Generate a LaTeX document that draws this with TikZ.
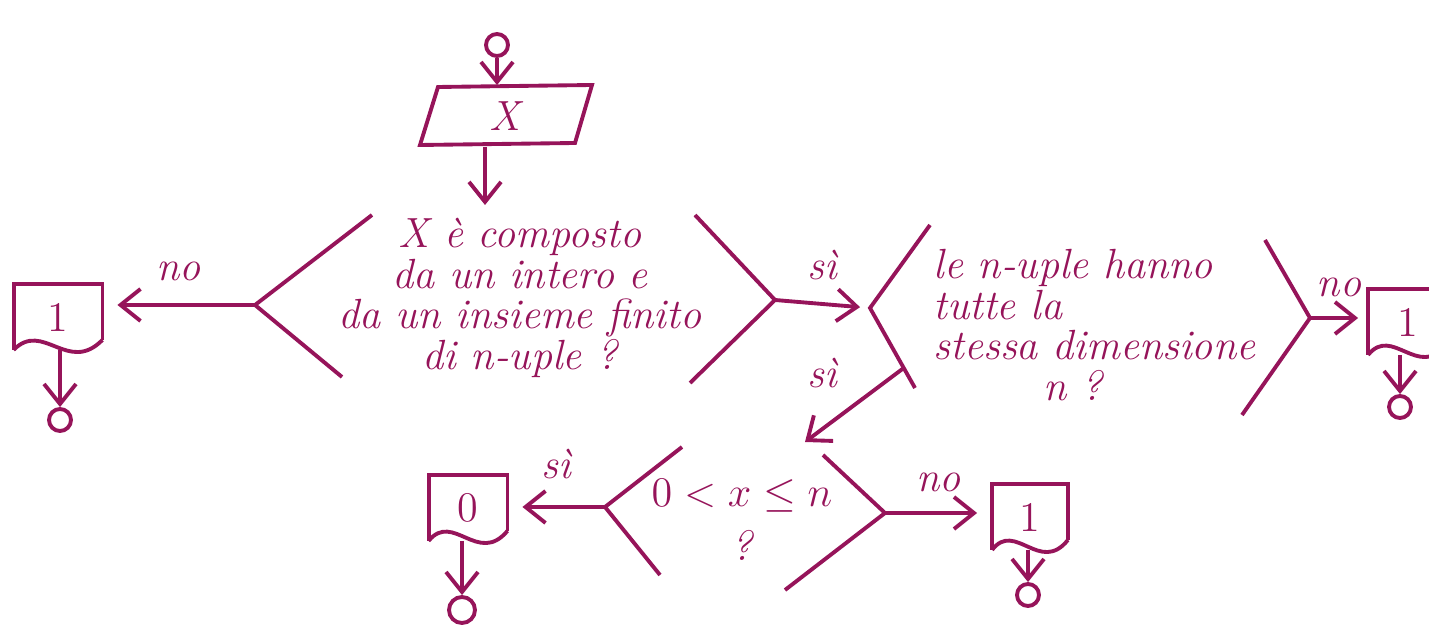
\documentclass[tikz,border=0pt]{standalone}
\usetikzlibrary{calc,arrows.meta}
\definecolor{ink}{RGB}{150,20,90}
% foglio di uscita: tre lati dritti e il fondo ondulato
\newcommand{\docforma}[1]{%
  \draw (#1.south west) -- (#1.north west) -- (#1.north east) -- ($(#1.south east)+(0,0.1)$);
  \draw (#1.south west) .. controls ($(#1.south)+(-0.15,0.3)$) and ($(#1.south)+(0.1,-0.25)$) .. ($(#1.south east)+(0,0.1)$);}

\begin{document}
\begin{tikzpicture}[scale=1.0, line width=1.1pt, ink, >={Straight Barb[length=2mm,width=3.2mm]},
  testo/.style={font=\fontsize{12}{11.5}\selectfont\itshape},
  foglio/.style={minimum width=0.85cm, minimum height=0.62cm, inner sep=0, font=\large},
  fine/.style={circle, draw, minimum size=2.2mm, inner sep=0}]
  \useasboundingbox (0,0) rectangle (14.29,-6.33);

  % inizio e input
  \node[fine] (s) at (4.97,-0.45) {};
  \node[minimum width=1.5cm, minimum height=0.58cm, inner sep=0, font=\large\itshape] (inp) at (5.05,-1.16) {X};
  \draw (4.38,-0.87) -- (5.92,-0.85) -- (5.75,-1.43) -- (4.20,-1.45) -- cycle;
  \coordinate (d1t) at (4.85,-2.05);
  \draw[->] (s) -- (s |- inp.north);
  \draw[->] (inp.south -| d1t) -- (d1t);

  % primo test
  \coordinate (d1l) at (2.55,-3.05);
  \coordinate (d1r) at (7.75,-3.00);
  \draw (3.72,-2.15) -- (d1l) -- (3.42,-3.77);
  \draw (6.95,-2.15) -- (d1r) -- (6.90,-3.83);
  \node[testo, align=center] (d1) at (5.2,-2.98) {X è composto\\da un intero e\\da un insieme finito\\di n-uple ?};

  \node[foglio] (f1) at (0.58,-3.17) {1};
  \docforma{f1}
  \node[fine] (e1) at (0.6,-4.2) {};
  \draw[->, shorten >=1.5mm] (d1l) -- node[testo, above=3pt] {no} (d1l -| f1.east);
  \draw[->] (f1.south -| e1) -- (e1);

  % secondo test
  \coordinate (d2l) at (8.70,-3.08);
  \coordinate (d2lb) at (9.15,-3.88);
  \coordinate (d2r) at (13.10,-3.18);
  \draw (9.30,-2.25) -- (d2l) -- (d2lb);
  \draw (12.65,-2.40) -- (d2r) -- (12.42,-4.15);
  \node[testo, align=left, anchor=west] (d2) at (9.2,-3.25) {le n-uple hanno\\tutte la\\stessa dimensione\\\hspace*{1.1cm}n ?};
  \draw[->, shorten >=1mm] (d1r) -- node[testo, above=3pt] {sì} (d2l);

  \node[foglio, minimum width=0.75cm] (f2) at (14.075,-3.22) {1};
  \docforma{f2}
  \node[fine] (e2) at (14.0,-4.07) {};
  \draw[->, shorten >=1mm] (d2r) -- node[testo, above=2pt] {no} (d2r -| f2.west);
  \draw[->] (f2.south -| e2) -- (e2);

  % terzo test
  \coordinate (d2s) at ($(d2l)!0.75!(d2lb)$);
  \coordinate (d3t) at (8.05,-4.42);
  \draw[->] (d2s) -- node[testo, above left=1pt] {sì} (d3t);
  \coordinate (d3l) at (6.05,-5.07);
  \coordinate (d3r) at (8.85,-5.13);
  \draw (6.82,-4.47) -- (d3l) -- (6.60,-5.75);
  \draw (8.23,-4.55) -- (d3r) -- (7.85,-5.90);
  \node[testo, align=center] (d3) at (7.42,-5.2) {$0<x\leq n$\\[4pt]?};

  \node[foglio, minimum width=0.75cm] (f0) at (4.68,-5.08) {0};
  \docforma{f0}
  \node[fine, minimum size=2.6mm] (e0) at (4.62,-6.10) {};
  \draw[->, shorten >=1.5mm] (d3l) -- node[testo, above=4pt] {sì} (d3l -| f0.east);
  \draw[->] (f0.south -| e0) -- (e0);

  \node[foglio, minimum width=0.72cm] (f3) at (10.30,-5.17) {1};
  \docforma{f3}
  \node[fine] (e3) at (10.28,-5.95) {};
  \draw[->, shorten >=1.5mm] (d3r) -- node[testo, above=2pt] {no} (d3r -| f3.west);
  \draw[->] (f3.south -| e3) -- (e3);
\end{tikzpicture}
\end{document}
